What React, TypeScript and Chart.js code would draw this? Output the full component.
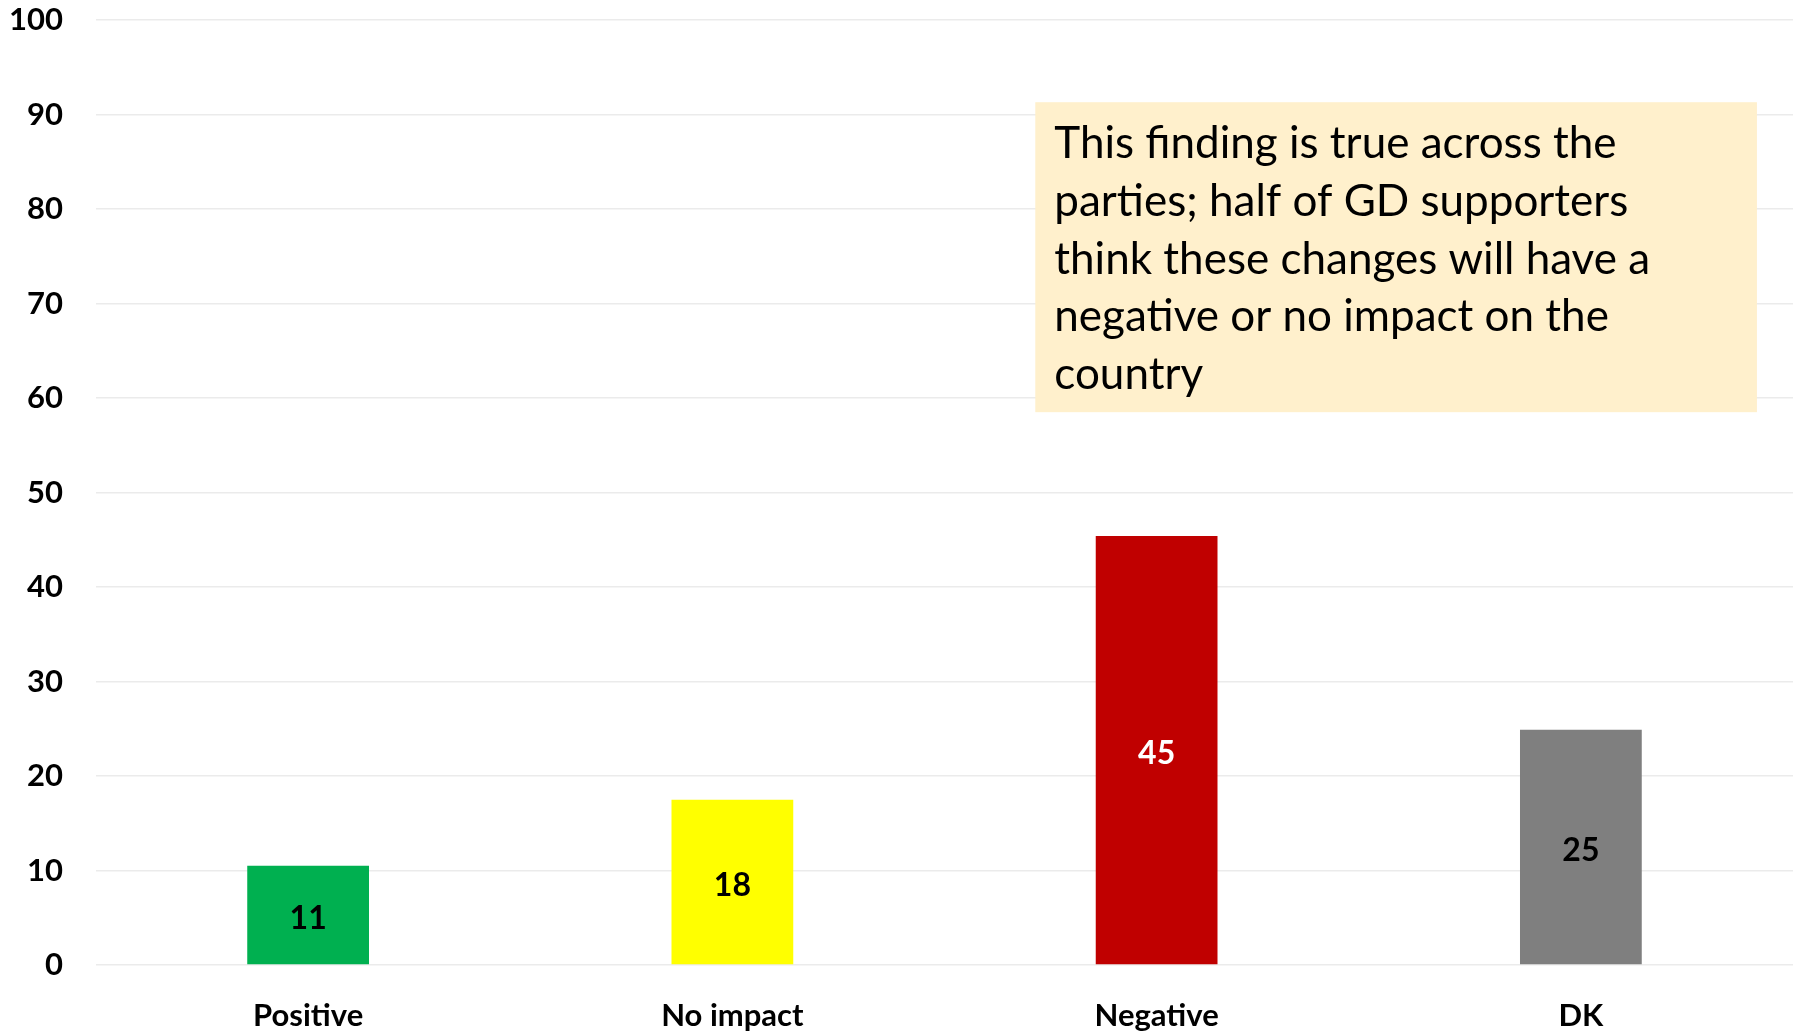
import { useEffect, useRef } from 'react';
import { Chart, registerables } from 'chart.js';

Chart.register(...registerables);

const categories = ['Positive', 'No impact', 'Negative', 'DK'];
const values = [10.5, 17.5, 45.4, 24.9];
const barColors = ['#00B050', '#FFFF00', '#C00000', '#7F7F7F'];
const valueLabelColors = ['#000000', '#000000', '#FFFFFF', '#000000'];
const yMin = 0;
const yMax = 100;
const yStep = 10;
const noteLines = [
  'This finding is true across the',
  'parties; half of GD supporters',
  'think these changes will have a',
  'negative or no impact on the',
  'country',
];

const FONT = 'Lato, "Open Sans", "Liberation Sans", sans-serif';

const valueLabelPlugin = {
  id: 'valueLabels',
  afterDatasetsDraw(chart: any) {
    const ctx = chart.ctx;
    const meta = chart.getDatasetMeta(0);
    ctx.save();
    ctx.font = `bold 32px ${FONT}`;
    ctx.textAlign = 'center';
    ctx.textBaseline = 'middle';
    meta.data.forEach((el: any, i: number) => {
      ctx.fillStyle = valueLabelColors[i];
      const y = (el.y + el.base) / 2 + 4;
      ctx.fillText(String(Math.round(values[i])), el.x, y);
    });
    ctx.restore();
  },
};

const notePlugin = {
  id: 'noteBox',
  afterDraw(chart: any) {
    const ctx = chart.ctx;
    const xs = chart.scales.x;
    const ys = chart.scales.y;
    const left = xs.getPixelForValue(1.714);
    const right = xs.getPixelForValue(3.415);
    const top = ys.getPixelForValue(91.3);
    const bottom = ys.getPixelForValue(58.5);
    ctx.save();
    ctx.fillStyle = '#FFF0CC';
    ctx.fillRect(left, top, right - left, bottom - top);
    ctx.fillStyle = '#000000';
    ctx.font = `44px ${FONT}`;
    ctx.textAlign = 'left';
    ctx.textBaseline = 'alphabetic';
    const lineH = (bottom - top) * 0.186;
    noteLines.forEach((line, i) => {
      ctx.fillText(line, left + 19, top + 56 + i * lineH);
    });
    ctx.restore();
  },
};

export default function App() {
  const ref = useRef<HTMLCanvasElement | null>(null);
  useEffect(() => {
    if (!ref.current) return;
    const chart = new Chart(ref.current, {
      type: 'bar',
      data: {
        labels: categories,
        datasets: [
          {
            data: values,
            backgroundColor: barColors,
            borderWidth: 0,
            barPercentage: 0.287,
            categoryPercentage: 1,
          },
        ],
      },
      options: {
        animation: false,
        responsive: true,
        maintainAspectRatio: false,
        layout: { padding: { left: 0, right: 13, top: 20, bottom: 0 } },
        plugins: {
          legend: { display: false },
          tooltip: { enabled: false },
        },
        scales: {
          x: {
            grid: { display: false, drawTicks: false },
            border: { display: false },
            ticks: {
              color: '#000000',
              font: { family: FONT, size: 31, weight: 'bold' },
              padding: 32,
            },
            afterFit(scale: any) {
              scale.height = 67;
            },
          },
          y: {
            min: yMin,
            max: yMax,
            ticks: {
              stepSize: yStep,
              color: '#000000',
              font: { family: FONT, size: 31, weight: 'bold' },
              padding: 33,
            },
            grid: { color: '#EBEBEB', lineWidth: 1.5, drawTicks: false },
            border: { display: false },
            afterFit(scale: any) {
              scale.width = 96;
              scale.paddingTop = 0;
              scale.paddingBottom = 0;
            },
          },
        },
      },
      plugins: [valueLabelPlugin, notePlugin],
    });
    return () => chart.destroy();
  }, []);
  return (
    <div style={{ position: 'fixed', left: 0, top: 0, width: 1806, height: 1032, background: '#FFFFFF' }}>
      <canvas ref={ref} />
    </div>
  );
}
